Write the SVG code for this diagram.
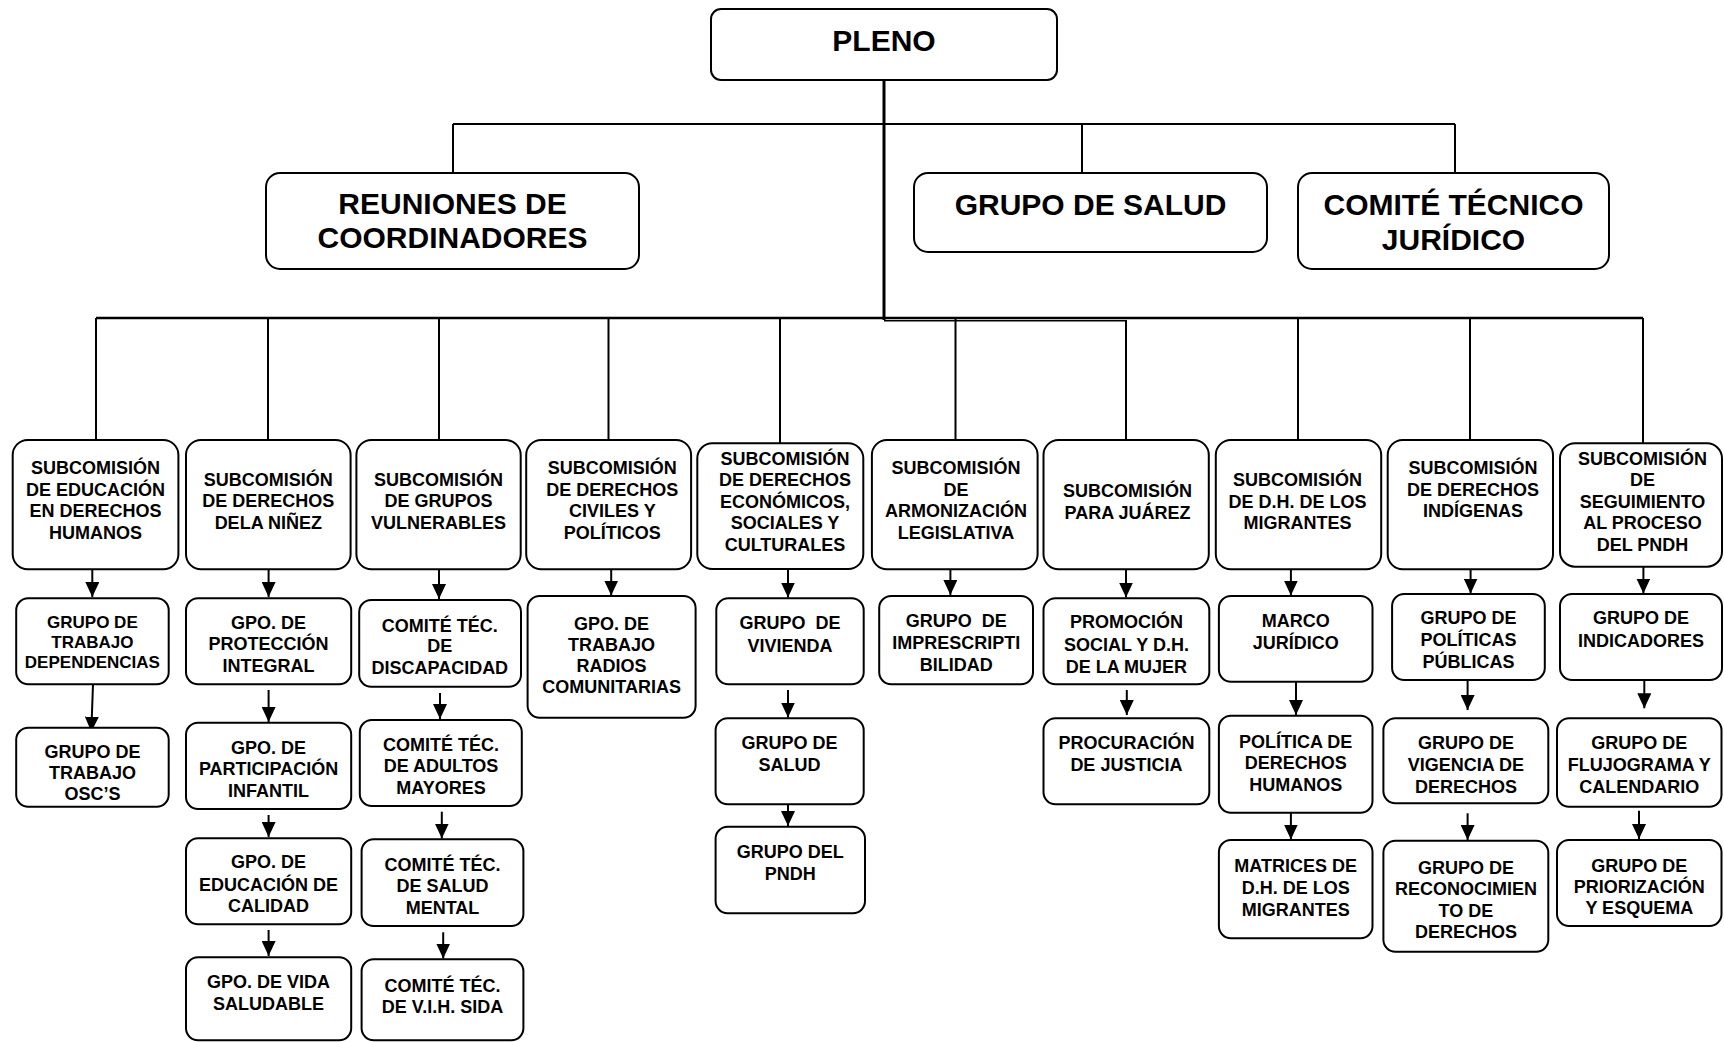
<svg xmlns="http://www.w3.org/2000/svg" width="1724" height="1042" viewBox="0 0 1724 1042">
<defs>
<style>
.box{fill:#fff;stroke:#000;stroke-width:2}
.t{font-family:"Liberation Sans",Arial,sans-serif;font-weight:bold;font-size:18px;text-anchor:middle;fill:#000}
.s17{font-size:17px}
.big{font-size:30px}
.ln{stroke:#000;stroke-width:2;fill:none}
.ar{stroke:#000;stroke-width:2;fill:none;marker-end:url(#ah)}
</style>
<marker id="ah" viewBox="0 0 15 14" markerWidth="15" markerHeight="14" refX="15" refY="7" orient="auto" markerUnits="userSpaceOnUse"><path d="M0,0 L15,7 L0,14 z" fill="#000"/></marker>
</defs>
<rect width="1724" height="1042" fill="#fff"/>

<g id="connectors">
<path class="ln" d="M884,80 V320" style="stroke-width:3"/>
<path class="ln" d="M453,124 H1455"/>
<path class="ln" d="M453,124 V173 M1082,124 V173 M1455,124 V183"/>
<path class="ln" d="M96,318 H1643" style="stroke-width:2.5"/>
<path class="ln" d="M884,320.7 H1126" style="stroke-width:1.5"/>
<path class="ln" d="M96,318 V440 M268,318 V440 M439,318 V440 M608.5,318 V440 M780,318 V443 M955.5,318 V440 M1126,320 V440 M1298,318 V440 M1470,318 V440 M1643,318 V443"/>
<path class="ar" d="M92.3,569 V597"/>
<path class="ar" d="M93,684.3 L91.3,731.7"/>
<path class="ar" d="M268.6,569 V597"/>
<path class="ar" d="M268.6,690 V722"/>
<path class="ar" d="M268.6,815 V837"/>
<path class="ar" d="M268.6,930 V956"/>
<path class="ar" d="M439,569 V599"/>
<path class="ar" d="M440,693 V719"/>
<path class="ar" d="M441.8,811.7 V838.5"/>
<path class="ar" d="M443.2,932.3 V958.5"/>
<path class="ar" d="M611.2,569 V595.5"/>
<path class="ar" d="M788,569 V597.5"/>
<path class="ar" d="M788,690 V717.5"/>
<path class="ar" d="M788,799 V826"/>
<path class="ar" d="M950.4,569 V595"/>
<path class="ar" d="M1126,569 V597.5"/>
<path class="ar" d="M1126.8,690 V715"/>
<path class="ar" d="M1290.9,569 V595.5"/>
<path class="ar" d="M1296,681.7 V715"/>
<path class="ar" d="M1290.9,812.7 V839.5"/>
<path class="ar" d="M1470.6,569 V593.5"/>
<path class="ar" d="M1467.6,676.7 V710"/>
<path class="ar" d="M1467.6,813.3 V840"/>
<path class="ar" d="M1643.4,566.7 V593.5"/>
<path class="ar" d="M1644.3,676.7 V708.3"/>
<path class="ar" d="M1639,810.7 V839"/>
</g>

<g id="pleno"><rect class="box" x="711" y="9" width="346" height="71" rx="10"/><text class="t big" x="884" y="51">PLENO</text></g>
<g id="reuniones"><rect class="box" x="266" y="173" width="373" height="96" rx="14"/><text class="t big" x="452.5" y="214">REUNIONES DE</text><text class="t big" x="452.5" y="248">COORDINADORES</text></g>
<g id="grupo-salud-top"><rect class="box" x="914" y="173" width="353" height="79" rx="14"/><text class="t big" x="1090.5" y="215">GRUPO DE SALUD</text></g>
<g id="comite-tecnico"><rect class="box" x="1298" y="173" width="311" height="96" rx="14"/><text class="t big" x="1453.5" y="215">COMITÉ TÉCNICO</text><text class="t big" x="1453.5" y="250">JURÍDICO</text></g>

<g id="sub1"><rect class="box" x="12.7" y="440" width="165.7" height="129.3" rx="15"/><text class="t" x="95.5"><tspan x="95.5" y="474">SUBCOMISIÓN</tspan><tspan x="95.5" y="495.7">DE EDUCACIÓN</tspan><tspan x="95.5" y="517.4">EN DERECHOS</tspan><tspan x="95.5" y="539">HUMANOS</tspan></text></g>
<g id="sub2"><rect class="box" x="186" y="440" width="164.6" height="129.3" rx="15"/><text class="t"><tspan x="268.3" y="485.7">SUBCOMISIÓN</tspan><tspan x="268.3" y="507.3">DE DERECHOS</tspan><tspan x="268.3" y="529">DELA NIÑEZ</tspan></text></g>
<g id="sub3"><rect class="box" x="356.4" y="440" width="164.3" height="129.3" rx="15"/><text class="t"><tspan x="438.6" y="485.7">SUBCOMISIÓN</tspan><tspan x="438.6" y="507.3">DE GRUPOS</tspan><tspan x="438.6" y="529">VULNERABLES</tspan></text></g>
<g id="sub4"><rect class="box" x="526.2" y="440" width="164.9" height="129.3" rx="15"/><text class="t"><tspan x="612.3" y="474">SUBCOMISIÓN</tspan><tspan x="612.3" y="495.7">DE DERECHOS</tspan><tspan x="612.3" y="517.4">CIVILES Y</tspan><tspan x="612.3" y="539">POLÍTICOS</tspan></text></g>
<g id="sub5"><rect class="box" x="697.3" y="443.3" width="166" height="125.7" rx="15"/><text class="t"><tspan x="785" y="464.5">SUBCOMISIÓN</tspan><tspan x="785" y="486">DE DERECHOS</tspan><tspan x="785" y="507.5">ECONÓMICOS,</tspan><tspan x="785" y="529">SOCIALES Y</tspan><tspan x="785" y="550.7">CULTURALES</tspan></text></g>
<g id="sub6"><rect class="box" x="871.9" y="440" width="165.7" height="129.3" rx="15"/><text class="t"><tspan x="956" y="474">SUBCOMISIÓN</tspan><tspan x="956" y="495.7">DE</tspan><tspan x="956" y="517.4">ARMONIZACIÓN</tspan><tspan x="956" y="539">LEGISLATIVA</tspan></text></g>
<g id="sub7"><rect class="box" x="1043.5" y="440" width="165.3" height="129.3" rx="15"/><text class="t"><tspan x="1127.5" y="497.3">SUBCOMISIÓN</tspan><tspan x="1127.5" y="519">PARA JUÁREZ</tspan></text></g>
<g id="sub8"><rect class="box" x="1215.8" y="440" width="165.4" height="129.3" rx="15"/><text class="t"><tspan x="1297.5" y="485.7">SUBCOMISIÓN</tspan><tspan x="1297.5" y="507.5">DE D.H. DE LOS</tspan><tspan x="1297.5" y="529">MIGRANTES</tspan></text></g>
<g id="sub9"><rect class="box" x="1387.7" y="440" width="165.3" height="129.3" rx="15"/><text class="t"><tspan x="1473" y="474">SUBCOMISIÓN</tspan><tspan x="1473" y="495.7">DE DERECHOS</tspan><tspan x="1473" y="517.4">INDÍGENAS</tspan></text></g>
<g id="sub10"><rect class="box" x="1560" y="443.3" width="162" height="123.4" rx="15"/><text class="t"><tspan x="1642.5" y="464.5">SUBCOMISIÓN</tspan><tspan x="1642.5" y="486">DE</tspan><tspan x="1642.5" y="507.5">SEGUIMIENTO</tspan><tspan x="1642.5" y="529">AL PROCESO</tspan><tspan x="1642.5" y="550.7">DEL PNDH</tspan></text></g>

<g id="c1a"><rect class="box" x="16.2" y="598.3" width="152.5" height="86" rx="12"/><text class="t s17"><tspan x="92.4" y="628.3">GRUPO DE</tspan><tspan x="92.4" y="648.3">TRABAJO</tspan><tspan x="92.4" y="668.3">DEPENDENCIAS</tspan></text></g>
<g id="c1b"><rect class="box" x="16.2" y="727.7" width="152.5" height="79" rx="12"/><text class="t"><tspan x="92.4" y="758.3">GRUPO DE</tspan><tspan x="92.4" y="779">TRABAJO</tspan><tspan x="92.4" y="800">OSC’S</tspan></text></g>

<g id="c2a"><rect class="box" x="186" y="598.3" width="165.2" height="86" rx="12"/><text class="t"><tspan x="268.6" y="629.3">GPO. DE</tspan><tspan x="268.6" y="650">PROTECCIÓN</tspan><tspan x="268.6" y="671.7">INTEGRAL</tspan></text></g>
<g id="c2b"><rect class="box" x="186" y="722.7" width="165.2" height="86.3" rx="12"/><text class="t"><tspan x="268.6" y="754">GPO. DE</tspan><tspan x="268.6" y="775">PARTICIPACIÓN</tspan><tspan x="268.6" y="797.3">INFANTIL</tspan></text></g>
<g id="c2c"><rect class="box" x="186" y="838.3" width="165.2" height="86" rx="12"/><text class="t"><tspan x="268.6" y="868.3">GPO. DE</tspan><tspan x="268.6" y="890.7">EDUCACIÓN DE</tspan><tspan x="268.6" y="912.3">CALIDAD</tspan></text></g>
<g id="c2d"><rect class="box" x="186" y="957.3" width="165.2" height="83" rx="12"/><text class="t"><tspan x="268.6" y="988.3">GPO. DE VIDA</tspan><tspan x="268.6" y="1010">SALUDABLE</tspan></text></g>

<g id="c3a"><rect class="box" x="359.2" y="600" width="161.8" height="86.7" rx="12"/><text class="t"><tspan x="439.8" y="631.7">COMITÉ TÉC.</tspan><tspan x="439.8" y="652.3">DE</tspan><tspan x="439.8" y="674">DISCAPACIDAD</tspan></text></g>
<g id="c3b"><rect class="box" x="359.8" y="720" width="162" height="86" rx="12"/><text class="t"><tspan x="441" y="750.7">COMITÉ TÉC.</tspan><tspan x="441" y="772.3">DE ADULTOS</tspan><tspan x="441" y="794">MAYORES</tspan></text></g>
<g id="c3c"><rect class="box" x="361.6" y="839.3" width="161.8" height="86.7" rx="12"/><text class="t"><tspan x="442.5" y="870.7">COMITÉ TÉC.</tspan><tspan x="442.5" y="892.3">DE SALUD</tspan><tspan x="442.5" y="914">MENTAL</tspan></text></g>
<g id="c3d"><rect class="box" x="361.6" y="959.3" width="161.8" height="81" rx="12"/><text class="t"><tspan x="442.5" y="991.7">COMITÉ TÉC.</tspan><tspan x="442.5" y="1013.3">DE V.I.H. SIDA</tspan></text></g>

<g id="c4a"><rect class="box" x="527.6" y="596" width="168" height="121.7" rx="12"/><text class="t"><tspan x="611.6" y="630">GPO. DE</tspan><tspan x="611.6" y="651">TRABAJO</tspan><tspan x="611.6" y="672.3">RADIOS</tspan><tspan x="611.6" y="693.3">COMUNITARIAS</tspan></text></g>

<g id="c5a"><rect class="box" x="716.3" y="598.3" width="147.4" height="86" rx="12"/><text class="t" xml:space="preserve"><tspan x="790" y="629.3">GRUPO  DE</tspan><tspan x="790" y="651.7">VIVIENDA</tspan></text></g>
<g id="c5b"><rect class="box" x="715.6" y="718.3" width="148.1" height="86" rx="12"/><text class="t"><tspan x="789.6" y="749.3">GRUPO DE</tspan><tspan x="789.6" y="771">SALUD</tspan></text></g>
<g id="c5c"><rect class="box" x="715.6" y="826.7" width="149.4" height="86.6" rx="12"/><text class="t"><tspan x="790.3" y="858.3">GRUPO DEL</tspan><tspan x="790.3" y="880">PNDH</tspan></text></g>

<g id="c6a"><rect class="box" x="879.2" y="596" width="153.8" height="88.3" rx="12"/><text class="t" xml:space="preserve"><tspan x="956.3" y="627.3">GRUPO  DE</tspan><tspan x="956.3" y="649.3">IMPRESCRIPTI</tspan><tspan x="956.3" y="670.7">BILIDAD</tspan></text></g>

<g id="c7a"><rect class="box" x="1043.5" y="598.3" width="165.8" height="86" rx="12"/><text class="t"><tspan x="1126.4" y="628.3">PROMOCIÓN</tspan><tspan x="1126.4" y="650.7">SOCIAL Y D.H.</tspan><tspan x="1126.4" y="672.7">DE LA MUJER</tspan></text></g>
<g id="c7b"><rect class="box" x="1043.5" y="718.3" width="165.8" height="86" rx="12"/><text class="t"><tspan x="1126.4" y="749.3">PROCURACIÓN</tspan><tspan x="1126.4" y="770.7">DE JUSTICIA</tspan></text></g>

<g id="c8a"><rect class="box" x="1218.9" y="596" width="153.6" height="85.7" rx="12"/><text class="t"><tspan x="1295.7" y="626.7">MARCO</tspan><tspan x="1295.7" y="649.3">JURÍDICO</tspan></text></g>
<g id="c8b"><rect class="box" x="1218.9" y="715.7" width="153.6" height="97" rx="12"/><text class="t"><tspan x="1295.7" y="748.3">POLÍTICA DE</tspan><tspan x="1295.7" y="769.3">DERECHOS</tspan><tspan x="1295.7" y="790.7">HUMANOS</tspan></text></g>
<g id="c8c"><rect class="box" x="1218.9" y="840" width="153.6" height="98.3" rx="12"/><text class="t"><tspan x="1295.7" y="872.3">MATRICES DE</tspan><tspan x="1295.7" y="894">D.H. DE LOS</tspan><tspan x="1295.7" y="916">MIGRANTES</tspan></text></g>

<g id="c9a"><rect class="box" x="1392.1" y="594" width="152.7" height="86" rx="12"/><text class="t"><tspan x="1468.5" y="624.3">GRUPO DE</tspan><tspan x="1468.5" y="646">POLÍTICAS</tspan><tspan x="1468.5" y="668.3">PÚBLICAS</tspan></text></g>
<g id="c9b"><rect class="box" x="1383.4" y="718.3" width="164.9" height="85" rx="12"/><text class="t"><tspan x="1465.9" y="749.3">GRUPO DE</tspan><tspan x="1465.9" y="771">VIGENCIA DE</tspan><tspan x="1465.9" y="792.7">DERECHOS</tspan></text></g>
<g id="c9c"><rect class="box" x="1383.4" y="840.7" width="164.9" height="111" rx="12"/><text class="t"><tspan x="1465.9" y="874">GRUPO DE</tspan><tspan x="1465.9" y="895">RECONOCIMIEN</tspan><tspan x="1465.9" y="916.7">TO DE</tspan><tspan x="1465.9" y="937.7">DERECHOS</tspan></text></g>

<g id="c10a"><rect class="box" x="1560" y="594" width="162" height="86" rx="12"/><text class="t"><tspan x="1641" y="624.3">GRUPO DE</tspan><tspan x="1641" y="646.7">INDICADORES</tspan></text></g>
<g id="c10b"><rect class="box" x="1557" y="718.3" width="164.5" height="88.4" rx="12"/><text class="t"><tspan x="1639.3" y="749.3">GRUPO DE</tspan><tspan x="1639.3" y="771">FLUJOGRAMA Y</tspan><tspan x="1639.3" y="792.7">CALENDARIO</tspan></text></g>
<g id="c10c"><rect class="box" x="1557" y="840" width="164.5" height="86" rx="12"/><text class="t"><tspan x="1639.3" y="871.7">GRUPO DE</tspan><tspan x="1639.3" y="892.7">PRIORIZACIÓN</tspan><tspan x="1639.3" y="914">Y ESQUEMA</tspan></text></g>
</svg>
